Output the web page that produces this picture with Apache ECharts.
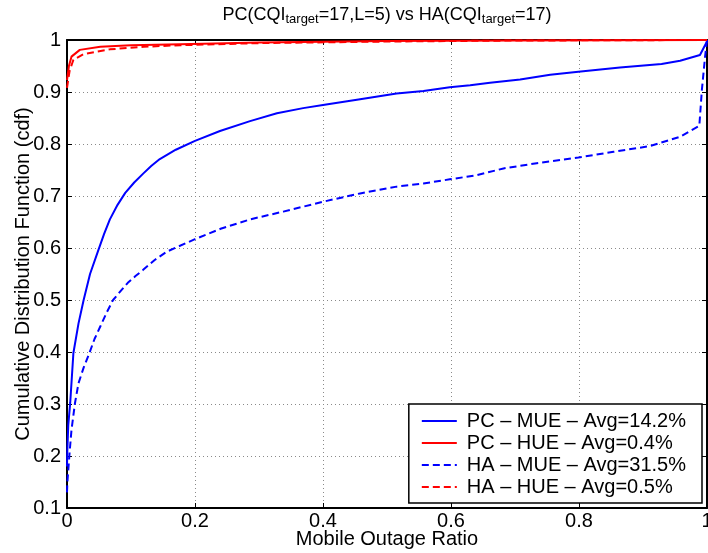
<!DOCTYPE html>
<html>
<head>
<meta charset="utf-8">
<script src="https://cdn.jsdelivr.net/npm/echarts@6/dist/echarts.min.js"></script>
<style>html,body{margin:0;padding:0;background:#fff;}#c{width:708px;height:553px;}</style>
</head>
<body>
<div id="c"></div>
<script>
// ---- data ----
const seriesNames = ['PC \u2013 MUE \u2013 Avg=14.2%', 'PC \u2013 HUE \u2013 Avg=0.4%', 'HA \u2013 MUE \u2013 Avg=31.5%', 'HA \u2013 HUE \u2013 Avg=0.5%'];

const pcMueX = [0, 0.0005, 0.002, 0.005, 0.01, 0.018, 0.026, 0.036, 0.049, 0.058, 0.067, 0.079, 0.091, 0.105, 0.119, 0.132, 0.145, 0.17, 0.2, 0.239, 0.286, 0.328, 0.369, 0.4, 0.458, 0.515, 0.557, 0.598, 0.63, 0.661, 0.708, 0.755, 0.799, 0.864, 0.929, 0.958, 0.989, 1.0];
const pcMueY = [0.18, 0.21, 0.26, 0.302, 0.398, 0.455, 0.5, 0.55, 0.596, 0.627, 0.655, 0.683, 0.706, 0.726, 0.743, 0.758, 0.771, 0.789, 0.806, 0.825, 0.844, 0.859, 0.869, 0.875, 0.886, 0.897, 0.902, 0.909, 0.913, 0.918, 0.924, 0.933, 0.939, 0.947, 0.954, 0.96, 0.971, 0.997];

const pcHueX = [0, 0.003, 0.007, 0.02, 0.052, 0.1, 0.177, 0.3, 0.5, 0.7, 1.0];
const pcHueY = [0.923, 0.95, 0.968, 0.981, 0.987, 0.99, 0.992, 0.995, 0.998, 0.999, 1.0];

const haMueX = [0, 0.0005, 0.004, 0.007, 0.0125, 0.018, 0.026, 0.035, 0.043, 0.052, 0.062, 0.072, 0.083, 0.095, 0.107, 0.119, 0.137, 0.156, 0.2, 0.24, 0.286, 0.338, 0.4, 0.458, 0.515, 0.557, 0.598, 0.64, 0.682, 0.734, 0.799, 0.854, 0.911, 0.958, 0.988, 0.992, 0.997, 1.0];
const haMueY = [0.13, 0.148, 0.206, 0.25, 0.302, 0.34, 0.37, 0.398, 0.425, 0.449, 0.476, 0.5, 0.516, 0.533, 0.546, 0.558, 0.577, 0.593, 0.617, 0.637, 0.655, 0.67, 0.689, 0.705, 0.718, 0.724, 0.732, 0.74, 0.753, 0.763, 0.774, 0.785, 0.796, 0.814, 0.835, 0.904, 0.968, 1.0];

const haHueX = [0, 0.004, 0.01, 0.026, 0.067, 0.12, 0.177, 0.3, 0.5, 0.7, 1.0];
const haHueY = [0.908, 0.94, 0.962, 0.973, 0.982, 0.987, 0.99, 0.994, 0.997, 0.999, 1.0];

const xTicks = [0, 0.2, 0.4, 0.6, 0.8, 1];
const yTicks = [0.1, 0.2, 0.3, 0.4, 0.5, 0.6, 0.7, 0.8, 0.9, 1];

// ---- chart ----
const zip = (xs, ys) => xs.map((x, i) => [x, ys[i]]);
const chart = echarts.init(document.getElementById('c'), null, {renderer: 'canvas'});
const FONT = 'Liberation Sans, Arial, Helvetica, sans-serif';
const gridLine = {show: true, lineStyle: {color: '#8a8a8a', type: [1, 3], width: 1}};
const tick = {show: true, inside: true, length: 5, lineStyle: {color: '#000', width: 1}};
const axLine = {show: true, onZero: false, lineStyle: {color: '#000', width: 2}};

function mkSeries(name, xs, ys, color, dashed) {
  return {
    name, type: 'line', xAxisIndex: 0, yAxisIndex: 0,
    data: zip(xs, ys), showSymbol: false, symbol: 'none', smooth: false,
    lineStyle: {color, width: 2, type: dashed ? [7, 4] : 'solid', join: 'round'},
    itemStyle: {color}, animation: false
  };
}

chart.setOption({
  animation: false,
  backgroundColor: '#fff',
  title: {
    left: 387, top: 6, textAlign: 'center', padding: 0,
    text: '{m|PC(CQI}{s|target}{m|=17,L=5) vs HA(CQI}{s|target}{m|=17)}',
    textStyle: {
      fontWeight: 'normal',
      rich: {
        m: {fontFamily: FONT, fontSize: 18, fontWeight: 'normal', color: '#000', lineHeight: 20, verticalAlign: 'top'},
        s: {fontFamily: FONT, fontSize: 13, fontWeight: 'normal', color: '#000', lineHeight: 14, verticalAlign: 'bottom', padding: [12, 0, 0, 0]}
      }
    }
  },
  grid: {left: 67, right: 1, top: 40, bottom: 45, containLabel: false, outerBoundsMode: 'none'},
  legend: {
    right: 6, bottom: 50, orient: 'vertical',
    data: seriesNames,
    backgroundColor: '#fff', borderColor: '#000', borderWidth: 1.5,
    padding: [7, 16, 6, 12], itemGap: 2, itemWidth: 35, itemHeight: 14,
    itemStyle: {opacity: 0},
    textStyle: {fontFamily: FONT, fontSize: 20, color: '#000', lineHeight: 20, padding: [0, 0, 0, 5]},
    selectedMode: false
  },
  xAxis: [{
    type: 'value', min: 0, max: 1, interval: 0.2, position: 'bottom',
    name: 'Mobile Outage Ratio', nameLocation: 'middle', nameGap: 21, nameMoveOverlap: false,
    nameTextStyle: {fontFamily: FONT, fontSize: 20, color: '#000'},
    axisLine: axLine, axisTick: tick, splitLine: gridLine,
    axisLabel: {fontFamily: FONT, fontSize: 20, color: '#000', margin: 3,
      formatter: v => String(+v.toFixed(1))}
  }, {
    type: 'value', min: 0, max: 1, interval: 0.2, position: 'top',
    axisLine: axLine, axisTick: tick, splitLine: {show: false}, axisLabel: {show: false}
  }],
  yAxis: [{
    type: 'value', min: 0.1, max: 1, interval: 0.1, position: 'left',
    name: 'Cumulative Distribution Function (cdf)', nameLocation: 'middle', nameGap: 34, nameMoveOverlap: false,
    nameTextStyle: {fontFamily: FONT, fontSize: 20, color: '#000'},
    axisLine: axLine, axisTick: tick, splitLine: gridLine,
    axisLabel: {fontFamily: FONT, fontSize: 20, color: '#000', margin: 6,
      formatter: v => String(+v.toFixed(1))}
  }, {
    type: 'value', min: 0.1, max: 1, interval: 0.1, position: 'right',
    axisLine: axLine, axisTick: tick, splitLine: {show: false}, axisLabel: {show: false}
  }],
  series: [
    mkSeries(seriesNames[2], haMueX, haMueY, '#0000ff', true),
    mkSeries(seriesNames[0], pcMueX, pcMueY, '#0000ff', false),
    mkSeries(seriesNames[3], haHueX, haHueY, '#ff0000', true),
    mkSeries(seriesNames[1], pcHueX, pcHueY, '#ff0000', false)
  ]
});
</script>
</body>
</html>
